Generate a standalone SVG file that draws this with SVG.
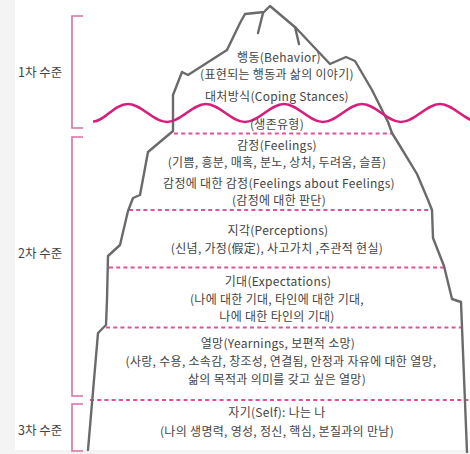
<svg xmlns="http://www.w3.org/2000/svg" width="470" height="454" viewBox="0 0 470 454">
  <style>
    .t { font-family: "Noto Sans CJK KR", "Noto Sans", sans-serif; font-size: 12px; letter-spacing: 0.3px; fill: #444; text-anchor: middle; }
    .lvl { font-family: "Noto Sans CJK KR", "Noto Sans", sans-serif; font-size: 12.5px; fill: #444; }
    .bracket { fill: none; stroke: #dd6ea3; stroke-width: 1.6; }
    .dash { fill: none; stroke: #e0519a; stroke-width: 1.8; stroke-dasharray: 4 3.2; }
    .berg { fill: none; stroke: #6a6a6a; stroke-width: 2.4; stroke-linejoin: round; stroke-linecap: round; }
    .water { fill: none; stroke: #d81e7c; stroke-width: 2.5; }
  </style>

  <!-- page -->
  <rect x="0" y="0" width="470" height="454" fill="#f4f4f4"/>
  <rect x="15" y="0" width="455" height="450" fill="#ffffff"/>

  <!-- level brackets -->
  <g id="level1">
    <path class="bracket" d="M83,16 H72 V128 H83"/>
    <text class="lvl" x="18" y="76.5">1차 수준</text>
  </g>
  <g id="level2">
    <path class="bracket" d="M83,137 H72 V396 H83"/>
    <text class="lvl" x="18" y="257.5">2차 수준</text>
  </g>
  <g id="level3">
    <path class="bracket" d="M83,404 H72 V451 H83"/>
    <text class="lvl" x="18" y="435">3차 수준</text>
  </g>

  <!-- layer separators -->
  <g id="separators">
    <path class="dash" d="M174,133.5 H392"/>
    <path class="dash" d="M129,210 H431"/>
    <path class="dash" d="M109,267.5 H445"/>
    <path class="dash" d="M106,327.5 H466"/>
    <path class="dash" d="M90,400 H470"/>
  </g>

  <!-- iceberg outline -->
  <g id="iceberg">
    <path class="berg" d="M88,450 L98,333 L106,325 L107,300 L108,256 L120,245 L128,211 L133,198 L140,195 L148,152 L173,131 L173,95 L182,72 L188,75 L227,50 L240,23 L245,14 L264,12 L270,6 L296,28 L330,64 L346,57 L355,61 L372,90 L388,122 L392,133 L400,146 L417,174 L428,200 L432,210 L433,238 L444,266 L452,299 L461,302 L467,452"/>
    <path class="berg" d="M263,13 L258,33"/>
    <path class="berg" d="M295,27 L299,44"/>
  </g>

  <!-- water line -->
  <g id="waterline">
    <path class="water" d="M93,121.6 C104,122 114,104 128,104 C142,104 153,122 167,122 C181,122 192,104 206,104 C220,104 231,122 245,122 C259,122 270,104 284,104 C298,104 309,122 323,122 C337,122 348,104 362,104 C376,104 387,122 401,122 C415,122 426,104 440,104 C454,104 465,122 479,122"/>
  </g>

  <!-- layer labels -->
  <g id="behavior">
    <text class="t" x="279" y="61.5">행동(Behavior)</text>
    <text class="t" x="277" y="79">(표현되는 행동과 삶의 이야기)</text>
  </g>
  <g id="coping">
    <text class="t" x="277" y="101">대처방식(Coping Stances)</text>
    <text class="t" x="277" y="129">(생존유형)</text>
  </g>
  <g id="feelings">
    <text class="t" x="277" y="149.5">감정(Feelings)</text>
    <text class="t" x="277" y="167">(기쁨, 흥분, 매혹, 분노, 상처, 두려움, 슬픔)</text>
    <text class="t" x="279" y="187.5">감정에 대한 감정(Feelings about Feelings)</text>
    <text class="t" x="279" y="205">(감정에 대한 판단)</text>
  </g>
  <g id="perceptions">
    <text class="t" x="278" y="234.5">지각(Perceptions)</text>
    <text class="t" x="277" y="253">(신념, 가정(假定), 사고가치 ,주관적 현실)</text>
  </g>
  <g id="expectations">
    <text class="t" x="278" y="286">기대(Expectations)</text>
    <text class="t" x="277" y="303.5">(나에 대한 기대, 타인에 대한 기대,</text>
    <text class="t" x="277" y="321">나에 대한 타인의 기대)</text>
  </g>
  <g id="yearnings">
    <text class="t" x="278" y="348">열망(Yearnings, 보편적 소망)</text>
    <text class="t" x="281" y="365.5">(사랑, 수용, 소속감, 창조성, 연결됨, 안정과 자유에 대한 열망,</text>
    <text class="t" x="277" y="383.5">삶의 목적과 의미를 갖고 싶은 열망)</text>
  </g>
  <g id="self">
    <text class="t" x="277" y="417">자기(Self): 나는 나</text>
    <text class="t" x="277" y="436">(나의 생명력, 영성, 정신, 핵심, 본질과의 만남)</text>
  </g>
</svg>
